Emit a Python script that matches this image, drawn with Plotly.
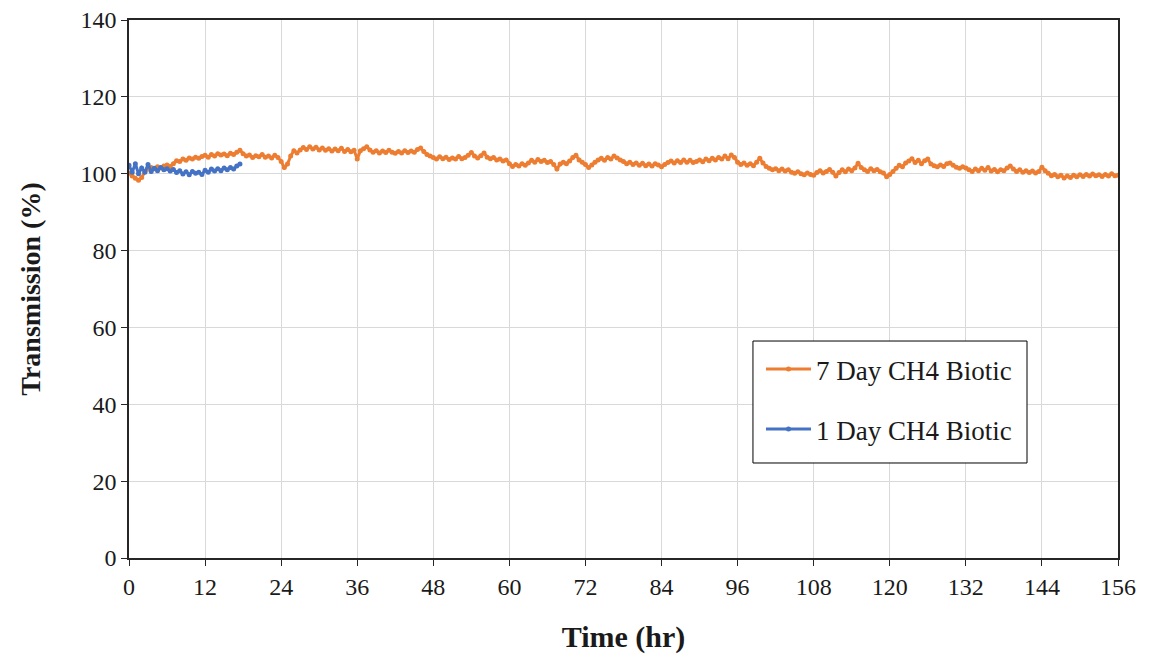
import plotly.graph_objects as go

# ---- data ----
step_hr = 0.5
orange_name = "7 Day CH4 Biotic"
blue_name = "1 Day CH4 Biotic"

orange_vals = [
    100.2, 99.4, 98.8, 98.3, 99.0, 100.5, 101.2, 101.6, 101.3, 101.8, 101.5, 102.0,
    102.3, 101.9, 102.6, 103.4, 103.2, 103.8, 103.5, 104.1, 103.8, 104.3, 104.0, 104.5,
    104.8, 104.3, 105.0, 104.6, 105.2, 104.9, 105.1, 104.7, 105.3, 105.0, 105.6, 106.1,
    105.2, 104.6, 104.9, 104.2, 104.7, 104.4, 105.0, 104.3, 104.6, 104.1, 104.8, 104.2,
    103.2, 101.6, 102.5, 104.6, 106.0, 105.4, 106.2, 106.8, 106.3, 107.0, 106.4, 106.9,
    106.2, 106.7, 106.1, 106.5, 105.9, 106.4, 106.0, 106.6, 105.8, 106.3, 105.7, 106.1,
    103.8, 106.0, 106.5, 107.0, 106.2, 105.6, 106.0, 105.4, 105.9, 105.5, 106.1, 105.6,
    105.3, 105.8, 105.4, 106.0, 105.5, 105.9, 105.6, 106.3, 106.7, 105.8, 105.0, 104.6,
    104.2, 103.8, 104.4, 103.9, 104.3, 103.7, 104.1, 103.8, 104.5, 103.9, 104.2, 104.8,
    105.5, 104.6, 104.1, 104.7, 105.4, 104.3, 103.9, 104.2, 103.6, 103.8, 103.3, 103.6,
    102.6, 101.9, 102.4, 102.0, 102.6, 102.2, 102.8, 103.5, 103.0, 103.7, 103.2, 103.5,
    102.9, 103.2, 102.4, 101.2, 102.5, 103.0, 102.6, 103.3, 104.2, 104.8, 103.6, 103.0,
    102.4, 101.6, 102.3, 103.0, 103.6, 104.0, 103.5, 104.2, 103.8, 104.6, 104.1, 103.6,
    103.2, 102.6, 103.0, 102.4, 102.8, 102.2, 102.7, 102.1, 102.5, 102.0, 102.6, 102.3,
    101.8, 102.4, 102.9, 103.3, 102.8, 103.4, 102.9, 103.6, 103.0, 103.5, 102.9, 103.2,
    103.6, 103.1, 103.8, 103.4, 104.0, 103.6, 104.2, 103.8, 104.6, 103.9, 104.9, 104.2,
    103.0, 102.4, 102.8, 102.2, 102.6, 102.1, 103.0, 104.0, 102.8, 101.9, 101.4, 101.0,
    101.3, 100.8, 101.2, 100.7, 101.0, 100.4, 100.1, 100.5, 100.0, 99.7, 100.2, 99.8,
    99.6, 100.3, 100.8, 100.2, 100.6, 101.1, 100.4, 99.4, 100.3, 101.0, 100.5, 101.2,
    100.8, 101.5, 102.7, 101.6, 101.0, 100.6, 101.3, 100.8, 101.1, 100.5, 100.2, 99.2,
    99.8, 100.6, 101.4, 102.2, 101.8, 102.8, 103.3, 103.9, 102.9, 103.5, 102.6, 103.4,
    103.8, 102.5, 102.1, 101.8, 102.3, 101.9, 102.6, 102.8, 102.2, 101.7, 101.4, 101.8,
    101.5, 101.0, 100.6, 101.2, 100.8, 101.4, 100.9, 101.6, 100.7, 101.1, 100.5, 101.0,
    100.8, 101.5, 102.0, 101.2, 100.6, 101.0, 100.4, 100.8, 100.3, 100.7, 100.2, 100.6,
    101.7, 100.8, 100.1, 99.5, 99.8, 99.2, 99.6, 98.9, 99.4, 99.0, 99.6, 99.2,
    99.7, 99.3, 99.8, 99.4, 99.9, 99.5, 99.7, 99.3, 99.8, 99.4, 100.0, 99.5,
    99.6,
]

blue_vals = [
    102.2, 100.4, 102.6, 100.0, 101.5, 100.4, 102.4, 100.6, 101.4, 100.8, 101.6, 101.0,
    101.3, 100.7, 101.1, 100.3, 100.8, 99.9, 100.5, 99.7, 100.6, 100.1, 100.4, 99.8,
    100.9, 100.4, 101.2, 100.7, 101.3, 100.8, 101.5, 101.0, 101.6, 101.2, 102.0, 102.5,
]

orange_t = [i * step_hr for i in range(len(orange_vals))]
blue_t = [i * step_hr for i in range(len(blue_vals))]

x_ticks = [0, 12, 24, 36, 48, 60, 72, 84, 96, 108, 120, 132, 144, 156]
y_ticks = [0, 20, 40, 60, 80, 100, 120, 140]

FONT = "Liberation Serif, Times New Roman, serif"
TXT = "#1a1a1a"

fig = go.Figure()
fig.add_trace(go.Scatter(
    x=orange_t, y=orange_vals, name=orange_name + "\u00a0", mode="lines+markers",
    line=dict(color="#ED7D31", width=3), marker=dict(color="#ED7D31", size=5),
    legendgroup="a",
))
fig.add_trace(go.Scatter(
    x=blue_t, y=blue_vals, name=blue_name + "\u00a0", mode="lines+markers",
    line=dict(color="#4472C4", width=3), marker=dict(color="#4472C4", size=5),
    legendgroup="b",
))

# legend frame (white box with black border)
fig.add_shape(
    type="rect", xref="paper", yref="paper",
    x0=0.6309, x1=0.9080, y0=0.1766, y1=0.4033,
    line=dict(color="#000000", width=1), fillcolor="white", layer="above",
)

fig.update_layout(
    width=1165, height=657,
    margin=dict(l=129, r=47, t=20, b=99, autoexpand=False),
    paper_bgcolor="white", plot_bgcolor="white",
    font=dict(family=FONT, size=24, color=TXT),
    showlegend=True,
    legend=dict(
        x=0.639, y=0.396, xanchor="left", yanchor="top",
        borderwidth=0, bgcolor="rgba(0,0,0,0)",
        font=dict(family=FONT, size=27, color=TXT),
        tracegroupgap=22, itemwidth=45,
    ),
)
fig.update_xaxes(
    range=[0, 156], tickvals=x_ticks, ticktext=[str(v) for v in x_ticks],
    showgrid=True, gridcolor="#D9D9D9", gridwidth=1,
    showline=True, linecolor="#262626", linewidth=1.5, mirror=True,
    ticks="outside", ticklen=6, tickcolor="#262626",
    tickfont=dict(family=FONT, size=24, color=TXT),
    title=dict(text="<b>Time (hr)</b>", font=dict(family=FONT, size=30, color=TXT), standoff=27),
    zeroline=False, automargin=False,
)
fig.update_yaxes(
    range=[0, 140], tickvals=y_ticks, ticktext=[str(v) for v in y_ticks],
    showgrid=True, gridcolor="#D9D9D9", gridwidth=1,
    showline=True, linecolor="#262626", linewidth=1.5, mirror=True,
    ticks="outside", ticklen=6, tickcolor="#262626",
    tickfont=dict(family=FONT, size=24, color=TXT),
    title=dict(text="<b>Transmission (%)</b>", font=dict(family=FONT, size=28, color=TXT), standoff=32),
    zeroline=False, automargin=False,
)

fig.write_html("out.html")
